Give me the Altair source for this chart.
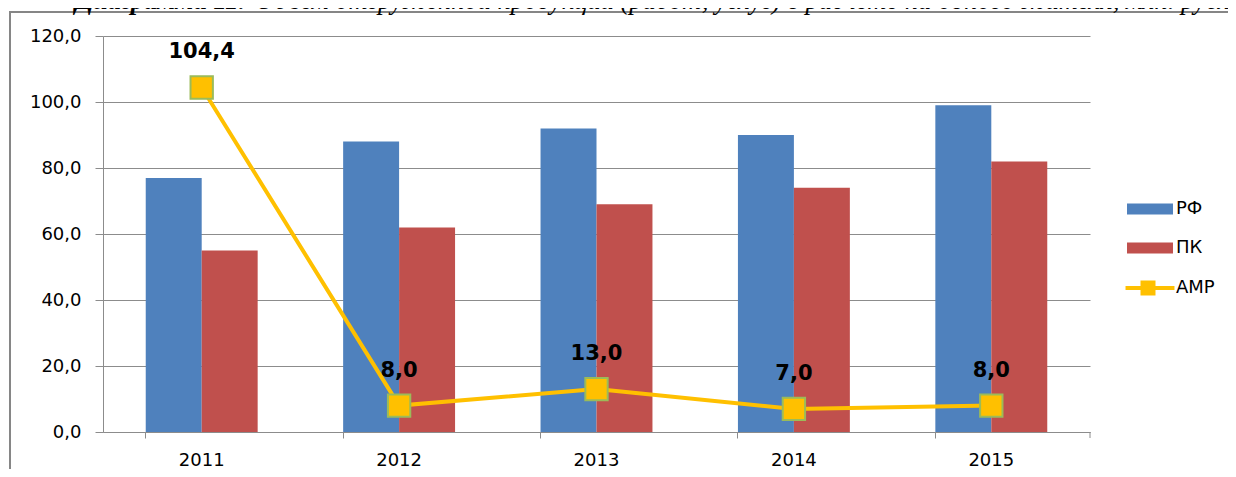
import altair as alt
import pandas as pd

years = ["2011", "2012", "2013", "2014", "2015"]
rf_values = [77, 88, 92, 90, 99]
pk_values = [55, 62, 69, 74, 82]
amr_values = [104.4, 8.0, 13.0, 7.0, 8.0]
bar_series = ["РФ", "ПК"]
amr_name = "АМР"
marker_key_name = "АМР "
y_ticks = [0, 20, 40, 60, 80, 100, 120]
title_bold = "Диаграмма 11."
title_rest = "Объем отгруженной продукции (работ, услуг) в расчете на одного жителя, млн. рублей"

BLUE = "#4F81BD"
RED = "#C0504D"
GOLD = "#FFC000"
GREEN = "#9BBB59"
GRAY = "#8c8c8c"
FONT = "DejaVu Sans"

bars_df = pd.DataFrame({
    "year": years * 2,
    "series": [bar_series[0]] * len(years) + [bar_series[1]] * len(years),
    "value": rf_values + pk_values,
})
amr_df = pd.DataFrame({
    "year": years,
    "value": amr_values,
    "line_key": [amr_name] * len(years),
    "marker_key": [marker_key_name] * len(years),
})
one_df = pd.DataFrame({"k": [0]})

band_scale = alt.Scale(domain=years, paddingInner=0.433, paddingOuter=0.2165)
val_scale = alt.Scale(domain=[0, 120], nice=False)

x_enc = alt.X(
    "year:N", sort=years, scale=band_scale,
    axis=alt.Axis(title=None, labelAngle=0, tickSize=6, bandPosition=0,
                  labelPadding=13, grid=False),
)
y_enc = alt.Y(
    "value:Q", scale=val_scale,
    axis=alt.Axis(title=None, values=y_ticks, tickSize=8, labelPadding=14,
                  labelExpr="replace(format(datum.value, '.1f'), '.', ',')",
                  grid=True),
)
x_plain = alt.X("year:N", sort=years, scale=band_scale)
y_plain = alt.Y("value:Q", scale=val_scale)

LEG_X = 1038
bars = alt.Chart(bars_df).mark_bar().encode(
    x=x_enc,
    y=y_enc,
    xOffset=alt.XOffset("series:N", sort=bar_series,
                        scale=alt.Scale(domain=bar_series, paddingInner=0, paddingOuter=0)),
    color=alt.Color(
        "series:N",
        scale=alt.Scale(domain=bar_series, range=[BLUE, RED]),
        legend=alt.Legend(
            title=None, orient="none", legendX=LEG_X, legendY=164,
            symbolType="M-4.18,-1H4.18V1H-4.18Z", symbolSize=121,
            symbolStrokeWidth=0, labelOffset=17, rowPadding=21, padding=0,
        ),
    ),
)

line = alt.Chart(amr_df).mark_line(strokeWidth=4).encode(
    x=x_plain,
    y=y_plain,
    stroke=alt.Stroke(
        "line_key:N",
        scale=alt.Scale(domain=[amr_name], range=[GOLD]),
        legend=alt.Legend(
            title=None, orient="none", legendX=LEG_X, legendY=243,
            symbolType="M-4.45,0H4.45", symbolSize=121, symbolStrokeWidth=4,
            labelOffset=17, padding=0,
        ),
    ),
)

points = alt.Chart(amr_df).mark_point(
    filled=True, size=500, fill=GOLD, stroke=GREEN, strokeWidth=2, opacity=1
).encode(
    x=x_plain,
    y=y_plain,
    shape=alt.Shape(
        "marker_key:N",
        scale=alt.Scale(domain=[marker_key_name], range=["square"]),
        legend=alt.Legend(
            title=None, orient="none", legendX=LEG_X - 2, legendY=243,
            symbolType="square", symbolSize=225, symbolFillColor=GOLD,
            symbolStrokeColor=GREEN, symbolStrokeWidth=1.5, labelExpr="''",
            padding=0,
        ),
    ),
)

labels = alt.Chart(amr_df).transform_calculate(
    lab="replace(format(datum.value, '.1f'), '.', ',')"
).mark_text(
    font=FONT, fontSize=21, fontWeight="bold", color="#000", dy=-29, baseline="alphabetic"
).encode(
    x=x_plain,
    y=y_plain,
    text="lab:N",
)

frame = alt.Chart(one_df).mark_rect(filled=False, stroke="#868686", strokeWidth=2).encode(
    x=alt.value(-93), x2=alt.value(2000), y=alt.value(-24), y2=alt.value(1000)
)

end_tick = alt.Chart(one_df).mark_rule(color=GRAY, strokeWidth=1).encode(
    x=alt.value(987), y=alt.value(396), y2=alt.value(402)
)

title1 = alt.Chart(one_df).mark_text(
    font="Liberation Serif", fontSize=26.5, fontStyle="italic", fontWeight="bold",
    align="left", baseline="alphabetic", color="#000", text=title_bold
).encode(x=alt.value(-28), y=alt.value(-27))

title2 = alt.Chart(one_df).mark_text(
    font="Liberation Serif", fontSize=26.5, fontStyle="italic",
    align="left", baseline="alphabetic", color="#000", text=title_rest
).encode(x=alt.value(152), y=alt.value(-27))

chart = alt.layer(frame, bars, end_tick, line, points, labels, title1, title2).properties(
    width=987, height=396,
    autosize=alt.AutoSizeParams(type="none"),
    padding={"left": 95, "top": 28, "right": 138, "bottom": 37},
    background="white",
).configure_view(stroke=None).configure_axis(
    gridColor=GRAY, domainColor=GRAY, tickColor=GRAY,
    labelFont=FONT, labelFontSize=18, labelColor="#000",
).configure_legend(
    labelFont=FONT, labelFontSize=18, labelColor="#000",
)

chart.save("out.html", embed_options={"renderer": "svg", "actions": False})
